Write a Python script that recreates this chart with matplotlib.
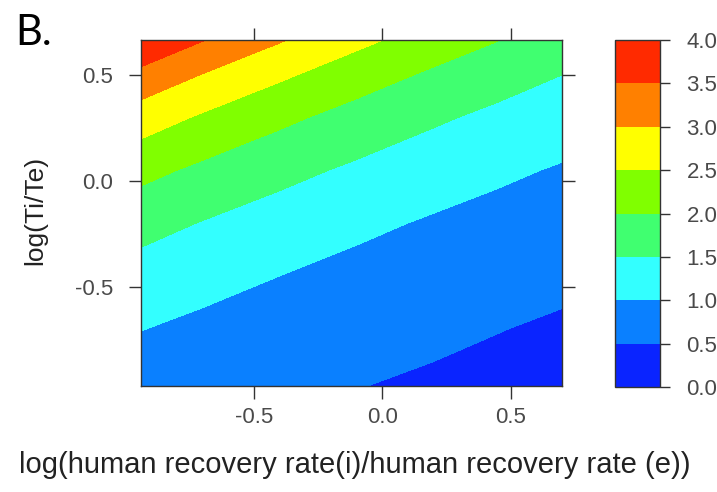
import numpy as np
import matplotlib
matplotlib.use('Agg')
import matplotlib.pyplot as plt
from matplotlib.colors import ListedColormap, BoundaryNorm

plt.rcParams['font.family'] = ['Liberation Sans', 'DejaVu Sans']

# grid (value at each node)
x_vals = [-0.94, -0.70, -0.40, -0.10, 0.20, 0.45, 0.70]
y_vals = [-0.97, -0.70, -0.45, -0.20, 0.05, 0.30, 0.50, 0.665]
# one row per y value, one column per x value
z_rows = [
    [0.77, 0.69, 0.59, 0.51, 0.44, 0.39, 0.35],
    [1.01, 0.90, 0.78, 0.67, 0.58, 0.51, 0.45],
    [1.30, 1.15, 1.00, 0.86, 0.74, 0.66, 0.58],
    [1.67, 1.48, 1.28, 1.10, 0.95, 0.85, 0.75],
    [2.14, 1.90, 1.64, 1.42, 1.22, 1.08, 0.96],
    [2.75, 2.44, 2.11, 1.82, 1.57, 1.39, 1.23],
    [3.36, 2.98, 2.58, 2.23, 1.92, 1.70, 1.50],
    [3.96, 3.52, 3.04, 2.62, 2.27, 2.01, 1.77],
]

levels = [0.0, 0.5, 1.0, 1.5, 2.0, 2.5, 3.0, 3.5, 4.0]
band_colors = ['#0A24FF', '#0A80FF', '#33FFFF', '#40FF70',
               '#80FF00', '#FFFF00', '#FF8000', '#FF2A00']
x_ticks = [-0.5, 0.0, 0.5]
y_ticks = [-0.5, 0.0, 0.5]

cmap = ListedColormap(band_colors)
norm = BoundaryNorm(levels, cmap.N)

fig = plt.figure(figsize=(7.17, 4.92), dpi=100)
ax = fig.add_axes([141 / 717, 106 / 492, 421 / 717, 346 / 492])
cax = fig.add_axes([615 / 717, 105 / 492, 45 / 717, 347 / 492])

X, Y = np.meshgrid(x_vals, y_vals)
Z = np.array(z_rows)
cs = ax.contourf(X, Y, Z, levels=levels, cmap=cmap, norm=norm)

ax.set_xlim(x_vals[0], x_vals[-1])
ax.set_ylim(y_vals[0], y_vals[-1])
ax.set_xticks(x_ticks)
ax.set_yticks(y_ticks)
ax.set_xticklabels([f'{v:.1f}' for v in x_ticks])
ax.set_yticklabels([f'{v:.1f}' for v in y_ticks])
ax.tick_params(direction='out', top=True, right=True, labeltop=False,
               labelright=False, length=9, width=1, color='#333333',
               labelsize=16, labelcolor='#4a4a4a')
ax.tick_params(axis='x', pad=6)
ax.tick_params(axis='y', pad=11)
for sp in ax.spines.values():
    sp.set_linewidth(1)
    sp.set_color('#333333')

cb = fig.colorbar(cs, cax=cax, ticks=levels)
cb.ax.set_yticklabels([f'{v:.1f}' for v in levels])
cb.ax.tick_params(direction='out', length=7, width=1, color='#333333',
                  labelsize=16, labelcolor='#4a4a4a', pad=12)
cb.outline.set_linewidth(1)
cb.outline.set_edgecolor('#333333')

fig.text(355 / 717, 27 / 492,
         'log(human recovery rate(i)/human recovery rate (e))',
         ha='center', va='center', fontsize=21, color='#222222')
fig.text(35 / 717, (492 - 210) / 492, 'log(Ti/Te)', rotation=90,
         ha='center', va='center', fontsize=19, color='#222222')
fig.text(15 / 717, (492 - 45) / 492, 'B.', ha='left', va='baseline',
         fontsize=30, family=['Lato', 'DejaVu Sans'], color='black')

fig.savefig('out.png', dpi=100, facecolor='white')
